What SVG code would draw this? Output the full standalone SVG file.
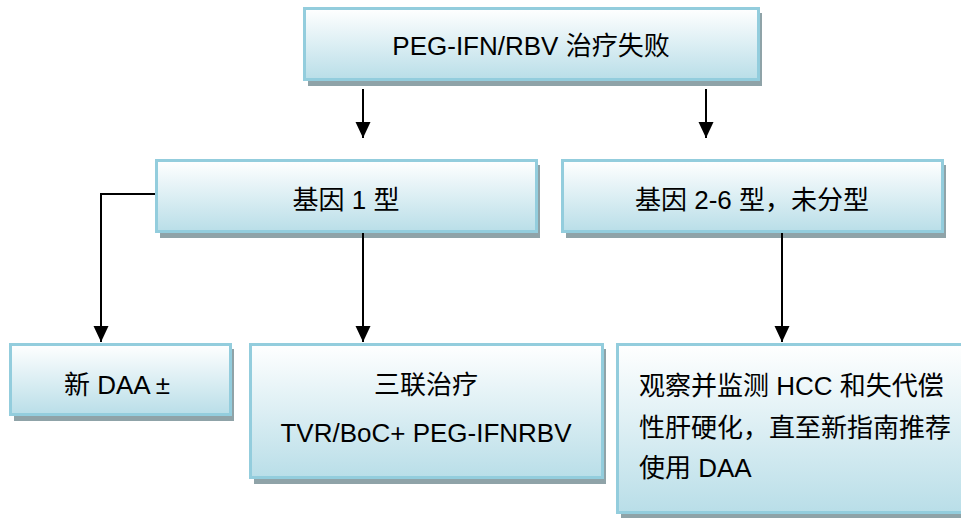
<svg xmlns="http://www.w3.org/2000/svg" width="961" height="518" viewBox="0 0 961 518">
  <defs>
    <linearGradient id="boxFill" x1="0" y1="0" x2="0" y2="1">
      <stop offset="0" stop-color="#ffffff"/>
      <stop offset="1" stop-color="#b9dee8"/>
    </linearGradient>
    <marker id="arrowHead" markerWidth="16" markerHeight="16" refX="16" refY="8" orient="auto" markerUnits="userSpaceOnUse">
      <path d="M0,0.5 L16,8 L0,15.5 z" fill="#000"/>
    </marker>
    <style>
      .shadow { fill: #8fa3a8; }
      .box { fill: url(#boxFill); stroke: #93cddd; stroke-width: 3; }
      .label { font-family: "Liberation Sans", "Noto Sans CJK SC", sans-serif; font-size: 26px; fill: #000; }
      .mid { text-anchor: middle; }
      .conn { fill: none; stroke: #000; stroke-width: 2; }
    </style>
  </defs>
  <rect width="961" height="518" fill="#ffffff"/>

  <g id="node-failure">
    <rect class="shadow" x="308" y="13" width="454" height="73"/>
    <rect class="box" x="304.5" y="8.5" width="454" height="71"/>
    <text class="label mid" x="531" y="55">PEG-IFN/RBV 治疗失败</text>
  </g>

  <g id="node-genotype1">
    <rect class="shadow" x="160" y="165" width="380" height="73"/>
    <rect class="box" x="156.5" y="160.5" width="380" height="71"/>
    <text class="label mid" x="346" y="209">基因 1 型</text>
  </g>

  <g id="node-genotype2-6">
    <rect class="shadow" x="566" y="165" width="380" height="73"/>
    <rect class="box" x="562.5" y="160.5" width="380" height="71"/>
    <text class="label mid" x="752" y="209">基因 2-6 型，未分型</text>
  </g>

  <g id="node-new-daa">
    <rect class="shadow" x="14" y="349" width="220" height="72"/>
    <rect class="box" x="10.5" y="344.5" width="220" height="70"/>
    <text class="label" x="64" y="394">新 DAA<tspan dx="5">±</tspan></text>
  </g>

  <g id="node-triple">
    <rect class="shadow" x="254" y="349" width="352" height="135"/>
    <rect class="box" x="250.5" y="344.5" width="352" height="133"/>
    <text class="label mid" x="426" y="394">三联治疗</text>
    <text class="label mid" x="426" y="442">TVR/BoC+ PEG-IFNRBV</text>
  </g>

  <g id="node-monitor">
    <rect class="shadow" x="621" y="349" width="350" height="170"/>
    <rect class="box" x="617.5" y="344.5" width="350" height="168"/>
    <text class="label" x="639" y="395">观察并监测 HCC 和失代偿</text>
    <text class="label" x="639" y="437">性肝硬化，直至新指南推荐</text>
    <text class="label" x="639" y="477">使用 DAA</text>
  </g>

  <g id="connectors">
    <path class="conn" d="M363,89 V138" marker-end="url(#arrowHead)"/>
    <path class="conn" d="M706,89 V138" marker-end="url(#arrowHead)"/>
    <path class="conn" d="M155,194 H101 V342" marker-end="url(#arrowHead)"/>
    <path class="conn" d="M363,233 V342" marker-end="url(#arrowHead)"/>
    <path class="conn" d="M782,233 V342" marker-end="url(#arrowHead)"/>
  </g>
</svg>
